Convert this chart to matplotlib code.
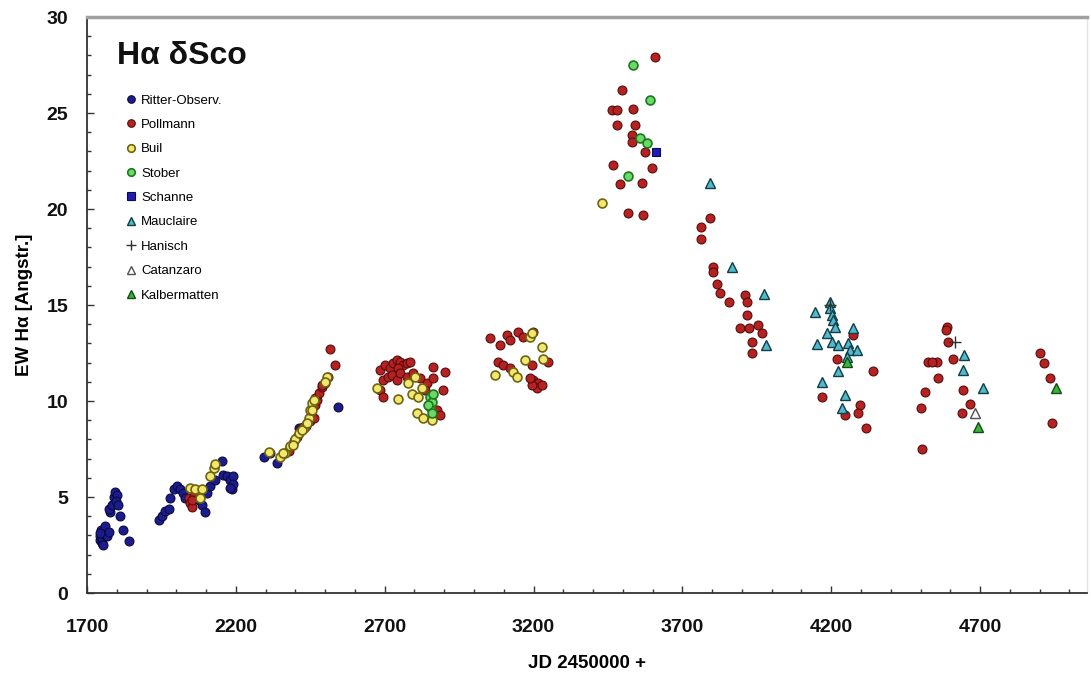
import matplotlib
matplotlib.use("Agg")
import matplotlib.pyplot as plt
from matplotlib.ticker import MultipleLocator

plt.rcParams['font.family'] = ['Liberation Sans', 'DejaVu Sans']

# ---------------- data (JD - 2450000, EW H-alpha) ----------------
ritter_x = [1742, 1745, 1748, 1750, 1752, 1755, 1756, 1760, 1761, 1767, 1773, 1745,
            1778, 1773, 1784, 1790, 1795, 1801, 1797, 1803, 1812, 1821, 1840,
            1941, 1952, 1963, 1974, 1980, 1991, 2002, 2013, 2024, 2030, 2075, 2086,
            2097, 2103, 2114, 2131, 2153, 2158, 2170, 2181, 2187, 2192, 2192, 2181,
            2293, 2315, 2338, 2394, 2411, 2542]
ritter_y = [2.75, 2.95, 3.3, 2.6, 2.85, 2.5, 3.1, 3.0, 3.5, 2.95, 3.2, 3.1,
            4.2, 4.35, 4.6, 5.0, 5.25, 5.1, 4.8, 4.6, 4.0, 3.3, 2.7,
            3.8, 4.0, 4.25, 4.4, 4.95, 5.4, 5.55, 5.4, 5.2, 4.95, 4.85, 4.6,
            4.2, 5.2, 5.55, 5.9, 6.85, 6.15, 6.1, 5.9, 5.4, 6.1, 5.7, 5.45,
            7.1, 7.3, 6.75, 7.9, 8.6, 9.7]

pollmann_x = [2041, 2046, 2052, 2058, 2052,
              2382, 2404, 2427, 2449, 2466, 2472, 2377, 2389, 2417, 2434, 2450, 2462,
              2467, 2478, 2490, 2501, 2516, 2533, 2511, 2488,
              2684, 2701, 2718, 2729, 2740, 2751, 2763, 2774, 2785, 2746, 2695, 2712,
              2723, 2684, 2695, 2740, 2751, 2774, 2796, 2819, 2841, 2863, 2863, 2903,
              2897, 2835, 2875, 2886,
              3054, 3087, 3110, 3121, 3149, 3166, 3199, 3082, 3099, 3121, 3194, 3250,
              3199, 3216, 3211, 3227, 3194, 3188,
              3608, 3496, 3462, 3479, 3533, 3479, 3541, 3530, 3530, 3574, 3597, 3468,
              3490, 3563, 3518, 3569,
              3791, 3763, 3763, 3804, 3804, 3815, 3826, 3858, 3910, 3916, 3916, 3893,
              3922, 3955, 3966, 3933, 3933,
              4218, 4274, 4341, 4168, 4297, 4291, 4246, 4317,
              4590, 4585, 4593, 4526, 4554, 4608, 4560, 4515, 4500, 4504, 4644, 4666,
              4638, 4540,
              4901, 4916, 4935, 4943]
pollmann_y = [4.95, 4.7, 4.5, 5.05, 4.85,
              7.62, 8.14, 8.66, 9.18, 9.79, 10.05, 7.4, 7.7, 8.5, 8.7, 8.95, 9.1,
              10.15, 10.4, 10.75, 10.95, 12.69, 11.87, 11.26, 10.83,
              11.61, 11.87, 11.7, 11.96, 12.13, 12.04, 11.87, 11.96, 12.04, 11.7, 11.09, 11.26,
              11.35, 10.57, 10.22, 11.09, 11.44, 11.26, 11.44, 11.18, 10.92, 11.18, 11.79, 11.52,
              10.57, 10.57, 9.53, 9.27,
              13.26, 12.91, 13.43, 13.17, 13.61, 13.35, 13.61, 12.04, 11.87, 11.7, 11.87, 12.04,
              11.09, 10.92, 10.66, 10.83, 10.83, 11.18,
              27.93, 26.2, 25.15, 25.15, 25.19, 24.37, 24.37, 23.85, 23.5, 22.98, 22.11, 22.29,
              21.28, 21.37, 19.8, 19.68,
              19.51, 19.08, 18.44, 17.0, 16.73, 16.09, 15.6, 15.17, 15.52, 15.17, 14.48, 13.78,
              13.78, 13.96, 13.52, 13.09, 12.48,
              12.17, 13.43, 11.58, 10.19, 9.79, 9.36, 9.27, 8.58,
              13.87, 13.7, 13.09, 12.05, 12.05, 12.17, 11.18, 10.45, 9.65, 7.48, 10.57, 9.84,
              9.36, 12.05,
              12.48, 12.0, 11.18, 8.87]

buil_x = [2046, 2064, 2086, 2080, 2114, 2125, 2131,
          2310, 2349, 2366, 2383, 2400, 2411, 2428, 2439, 2445, 2450, 2456, 2462,
          2360, 2393, 2421, 2438, 2455, 2507, 2500,
          2673, 2746, 2779, 2791, 2802, 2813, 2824, 2807, 2830, 2858, 2852,
          3188, 3194, 3227, 3233, 3171, 3071, 3132, 3143,
          3429]
buil_y = [5.45, 5.4, 5.4, 4.95, 6.1, 6.5, 6.7,
          7.35, 7.1, 7.3, 7.65, 8.0, 8.35, 8.6, 8.85, 9.1, 9.55, 9.9, 10.05,
          7.27, 7.7, 8.5, 8.83, 9.53, 11.26, 11.0,
          10.66, 10.13, 10.92, 10.39, 11.26, 10.22, 10.66, 9.35, 9.09, 9.0, 9.7,
          13.35, 13.52, 12.83, 12.21, 12.13, 11.35, 11.52, 11.26,
          20.29]

stober_x = [2852, 2858, 2863, 2847, 2858, 3535, 3591, 3558, 3580, 3518]
stober_y = [10.22, 9.96, 10.39, 9.79, 9.35, 27.5, 25.67, 23.68, 23.42, 21.72]

schanne_x = [3611]
schanne_y = [22.98]

mauclaire_x = [3793, 3866, 3974, 3981, 4145, 4196, 4196, 4201, 4207, 4213, 4185, 4151,
               4201, 4224, 4274, 4257, 4263, 4285, 4252, 4224, 4168, 4246, 4235,
               4647, 4644, 4711]
mauclaire_y = [21.33, 17.0, 15.57, 12.91, 14.65, 15.17, 14.83, 14.48, 14.22, 13.87, 13.52, 12.99,
               13.09, 12.91, 13.78, 13.0, 12.65, 12.65, 12.31, 11.58, 11.0, 10.31, 9.62,
               12.4, 11.61, 10.66]

hanisch_x = [4196, 4616]
hanisch_y = [15.0, 13.09]

catanzaro_x = [4683]
catanzaro_y = [9.39]

kalbermatten_x = [4252, 4694, 4954]
kalbermatten_y = [12.05, 8.66, 10.66]

series_names = ["Ritter-Observ.", "Pollmann", "Buil", "Stober", "Schanne",
                "Mauclaire", "Hanisch", "Catanzaro", "Kalbermatten"]

x_ticks = [1700, 2200, 2700, 3200, 3700, 4200, 4700]
y_ticks = [0, 5, 10, 15, 20, 25, 30]

# ---------------- figure ----------------
fig = plt.figure(figsize=(10.91, 6.77), dpi=100)
ax = fig.add_axes([87 / 1091, 84 / 677, 1000 / 1091, 576 / 677])

styles = [
    (ritter_x, ritter_y, dict(marker='o', color='none', markerfacecolor='#1c1c8e', markeredgecolor='#0a0a40', markersize=6.4, markeredgewidth=0.8)),
    (pollmann_x, pollmann_y, dict(marker='o', color='none', markerfacecolor='#b42222', markeredgecolor='#5a0a0a', markersize=6.4, markeredgewidth=0.8)),
    (buil_x, buil_y, dict(marker='o', color='none', markerfacecolor='#f2e870', markeredgecolor='#6e6410', markersize=6.4, markeredgewidth=1.2)),
    (stober_x, stober_y, dict(marker='o', color='none', markerfacecolor='#6ad86a', markeredgecolor='#1a7a1a', markersize=6.4, markeredgewidth=1.2)),
    (schanne_x, schanne_y, dict(marker='s', color='none', markerfacecolor='#1c1cb4', markeredgecolor='#0a0a50', markersize=6.4, markeredgewidth=0.8)),
    (mauclaire_x, mauclaire_y, dict(marker='^', color='none', markerfacecolor='#52b8cc', markeredgecolor='#0e3e46', markersize=7, markeredgewidth=1.0)),
    (hanisch_x, hanisch_y, dict(marker='+', color='none', markeredgecolor='#303030', markersize=9, markeredgewidth=1.0)),
    (catanzaro_x, catanzaro_y, dict(marker='^', color='none', markerfacecolor='white', markeredgecolor='#505050', markersize=7, markeredgewidth=1.0)),
    (kalbermatten_x, kalbermatten_y, dict(marker='^', color='none', markerfacecolor='#3cb43c', markeredgecolor='#0e4e0e', markersize=7, markeredgewidth=1.0)),
]

for (xs, ys, st), name in zip(styles, series_names):
    ax.plot(xs, ys, linestyle='none', label=name, **st)

ax.set_xlim(1700, 5059)
ax.set_ylim(0, 30)

ax.set_xticks(x_ticks)
ax.set_yticks(y_ticks)
ax.xaxis.set_minor_locator(MultipleLocator(100))
ax.yaxis.set_minor_locator(MultipleLocator(1))

ax.tick_params(axis='both', which='both', direction='in', color='#333333')
ax.tick_params(axis='x', which='major', length=5, width=1, pad=18.5, labelsize=14)
ax.tick_params(axis='x', which='minor', length=3, width=1)
ax.tick_params(axis='y', which='major', length=5, width=1, pad=13.5, labelsize=14)
ax.tick_params(axis='y', which='minor', length=3, width=1)
for lab in ax.get_xticklabels() + ax.get_yticklabels():
    lab.set_fontweight('bold')
    lab.set_color('#111111')

ax.spines['left'].set_color('#333333')
ax.spines['bottom'].set_color('#333333')
ax.spines['left'].set_linewidth(1.3)
ax.spines['bottom'].set_linewidth(1.3)
ax.spines['top'].set_color('#a0a0a0')
ax.spines['top'].set_linewidth(2.5)
ax.spines['right'].set_color('#e4e4e4')
ax.spines['right'].set_linewidth(1.0)

ax.set_xlabel("JD 2450000 +", fontsize=13.5, fontweight='bold', labelpad=14)
ax.set_ylabel("EW H\u03b1 [Angstr.]", fontsize=13.5, fontweight='bold')
ax.yaxis.set_label_coords(-0.054, 0.5)

ax.text(0.03, 0.932, "H\u03b1 \u03b4Sco", transform=ax.transAxes, fontsize=23,
        fontweight='bold', ha='left', va='center', color='#111111')

handles, labels = ax.get_legend_handles_labels()
leg = ax.legend(handles, labels, loc='upper left', bbox_to_anchor=(0.035, 0.875),
                frameon=False, fontsize=9.5, handlelength=0.6, handletextpad=0.45,
                labelspacing=0.92, borderaxespad=0, markerscale=0.85)

fig.savefig("out.png", dpi=100, facecolor='white')
